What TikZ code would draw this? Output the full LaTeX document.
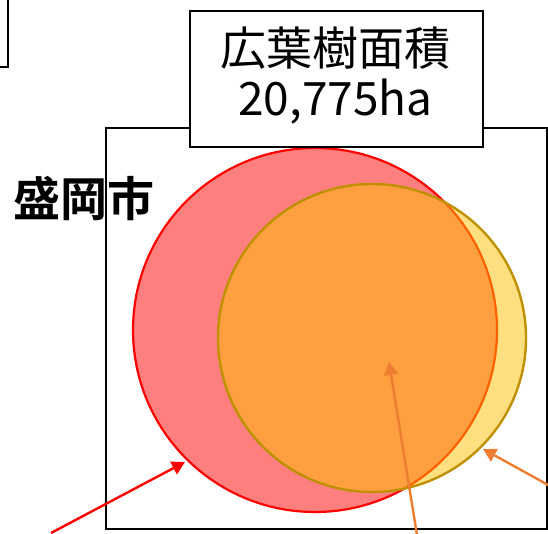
\documentclass[tikz,border=0pt]{standalone}
\usepackage{fontspec}
\setmainfont{Noto Sans CJK JP}
\newfontfamily\cjkbold[BoldFont={* Bold}]{Noto Sans CJK JP}
\usetikzlibrary{arrows.meta}
\definecolor{arrorange}{HTML}{ED7D31}
\definecolor{ygold}{HTML}{FFC000}
\definecolor{yedge}{HTML}{BF9000}
\tikzset{
  frame/.style={draw=black, line width=2.4pt},
  labelbox/.style={draw=black, fill=white, line width=1.6pt},
  setA/.style={circle, draw=red, line width=2.2pt, fill=red, fill opacity=0.5, draw opacity=1, text opacity=1},
  setB/.style={circle, draw=yedge, line width=2.4pt, fill=ygold, fill opacity=0.5, draw opacity=1, text opacity=1},
  pointer/.style={line width=2.4pt, -{Triangle[length=13pt,width=14pt]}},
}
\begin{document}
\begin{tikzpicture}[x=1pt,y=-1pt]
\useasboundingbox (0,0) rectangle (548,533);
% partial box at top-left
\coordinate (tlA) at (8,-2);
\coordinate (tlB) at (8,67);
\coordinate (tlC) at (-2,67);
\draw[frame] (tlA) -- (tlB) -- (tlC);
% main frame
\draw[frame] (106,128) rectangle (547,529);
% circles
\node[setA, minimum size=364pt, inner sep=0pt] (red) at (315,330) {};
\node[setB, minimum size=308pt, inner sep=0pt] (yel) at (372,338) {};
% label box
\node[labelbox, minimum width=293pt, minimum height=136pt, inner sep=0pt, anchor=north west] (lbl) at (189,10) {};
\node[font=\fontsize{46}{50}\selectfont, align=center, inner sep=0pt] (lbltext) at (335.5,76) {広葉樹面積\\20,775ha};
% city name
\node[font=\cjkbold\bfseries\fontsize{47}{50}\selectfont, inner sep=0pt, anchor=west] (city) at (13,199) {盛岡市};
% arrows
\coordinate (t1) at (51,533);
\coordinate (h1) at (185,462);
\coordinate (t2) at (417,535);
\coordinate (h2) at (389,362);
\coordinate (t3) at (550,486);
\coordinate (h3) at (483,449);
\draw[pointer, red] (t1) -- (h1);
\draw[pointer, arrorange] (t2) -- (h2);
\draw[pointer, arrorange] (t3) -- (h3);
\end{tikzpicture}
\end{document}
